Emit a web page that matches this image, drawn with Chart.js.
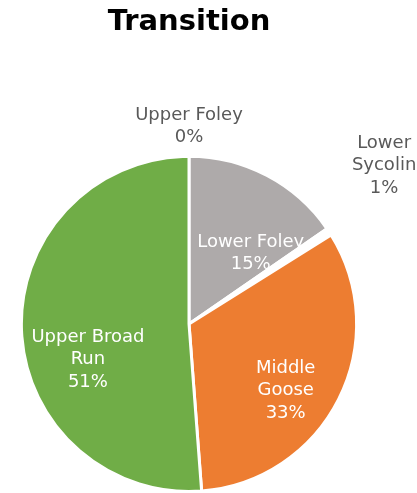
<!DOCTYPE html>
<html>
<head>
<meta charset="utf-8">
<script src="https://cdn.jsdelivr.net/npm/chart.js@4"></script>
<style>
  html, body { margin: 0; padding: 0; background: #fff; }
  #wrap { width: 417px; height: 493px; }
</style>
</head>
<body>
<div id="wrap"><canvas id="transitionchart"></canvas></div>
<script>
// Anteile pro Teilgebiet (Prozent)
const categories = ['Upper Foley', 'Lower Foley', 'Lower Sycolin', 'Middle Goose', 'Upper Broad Run'];
const shares = [0, 15.4, 0.7, 32.7, 51.2];
const sliceColors = ['#ffffff', '#aeaaaa', '#ffffff', '#ed7d31', '#70ad47'];

// Beschriftung: Zeilen pro Label, innen weiss, aussen grau
const labelLines = [['Upper Foley'], ['Lower Foley'], ['Lower', 'Sycolin'], ['Middle', 'Goose'], ['Upper Broad', 'Run']];
const labelInside = [false, true, false, true, true];
const labelRadius = [1.18, 0.56, 1.5, 0.7, 0.64];   // Anteil vom Radius
const labelShift = [0, 13.4, -5.8, 7.7, -17.4];     // Grad gegen Mittelwinkel

const sliceLabels = {
  id: 'sliceLabels',
  afterDatasetsDraw: function (chart) {
    var ctx = chart.ctx;
    var meta = chart.getDatasetMeta(0);
    var total = shares.reduce(function (a, b) { return a + b; }, 0);
    ctx.save();
    ctx.font = '18px "DejaVu Sans", Verdana, sans-serif';
    ctx.textAlign = 'center';
    ctx.textBaseline = 'middle';
    meta.data.forEach(function (arc, i) {
      var p = arc.getProps(['x', 'y', 'startAngle', 'endAngle', 'outerRadius'], true);
      var mid = (p.startAngle + p.endAngle) / 2 + labelShift[i] * Math.PI / 180;
      var r = p.outerRadius * labelRadius[i];
      var cx = p.x + Math.cos(mid) * r;
      var cy = p.y + Math.sin(mid) * r;
      var lines = labelLines[i].concat([Math.round(shares[i] / total * 100) + '%']);
      var lh = 22.5;
      ctx.fillStyle = labelInside[i] ? '#ffffff' : '#595959';
      lines.forEach(function (t, k) {
        ctx.fillText(t, cx, cy + (k - (lines.length - 1) / 2) * lh);
      });
    });
    ctx.restore();
  }
};

var ctx = document.getElementById('transitionchart').getContext('2d');
var transitionChart = new Chart(ctx, {
  type: 'pie',
  data: {
    labels: categories,
    datasets: [{
      data: shares,
      backgroundColor: sliceColors,
      borderColor: '#ffffff',
      borderWidth: 3
    }]
  },
  options: {
    responsive: true,
    maintainAspectRatio: false,
    animation: false,
    rotation: 0,
    layout: {
      padding: { left: 19, right: 58, top: 0, bottom: -2 }
    },
    plugins: {
      legend: { display: false },
      tooltip: { enabled: false },
      title: {
        display: true,
        text: 'Transition',
        color: '#000000',
        font: { family: '"DejaVu Sans", Verdana, sans-serif', size: 29, weight: 'bold' },
        padding: { top: 5, bottom: 115 }
      }
    }
  },
  plugins: [sliceLabels]
});
</script>
</body>
</html>
